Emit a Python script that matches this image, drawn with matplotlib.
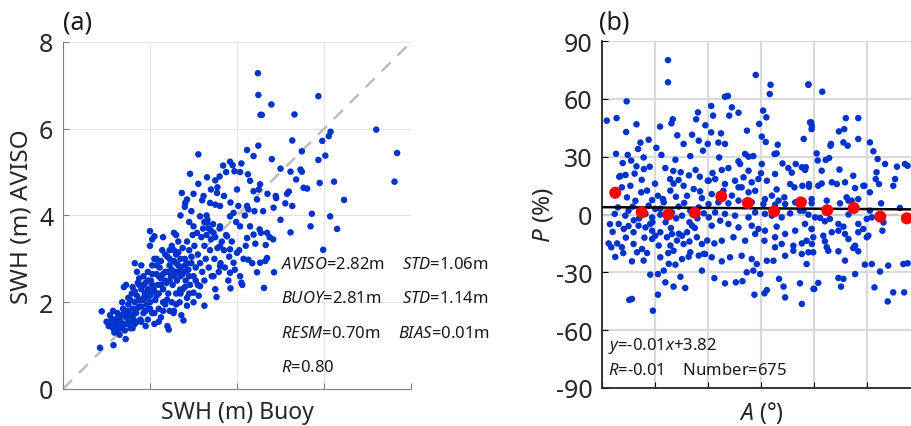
import matplotlib
matplotlib.use("Agg")
import matplotlib.pyplot as plt

plt.rcParams['font.family'] = ['Noto Sans', 'DejaVu Sans']
plt.rcParams['mathtext.fontset'] = 'custom'
plt.rcParams['mathtext.rm'] = 'Noto Sans'
plt.rcParams['mathtext.it'] = 'Noto Sans:italic'
plt.rcParams['axes.unicode_minus'] = False

# ---- panel (a): SWH buoy vs AVISO ----
swh_buoy = [
    4.48, 4.49, 4.79, 4.54, 4.57, 5.87, 5.32, 7.20, 7.68, 7.62, 6.15, 6.11, 5.96, 5.27, 4.49, 4.23, 3.11, 5.49,
    6.03, 5.87, 4.80, 4.38, 5.00, 5.23, 5.46, 5.49, 6.23, 5.90, 5.36, 5.53, 5.61, 5.19, 6.46, 4.89, 5.11, 5.27,
    4.84, 5.72, 6.14, 5.69, 6.30, 5.23, 5.98, 4.85, 4.62, 2.92, 3.84, 3.90, 3.68, 4.07, 3.94, 3.31, 3.50, 2.73,
    2.85, 2.81, 3.11, 2.00, 2.10, 0.89, 0.85, 1.16, 2.43, 2.77, 3.25, 3.53, 3.85, 4.12, 4.26, 4.46, 4.53, 4.69,
    4.38, 4.52, 4.69, 4.83, 4.66, 4.23, 4.00, 3.84, 4.07, 3.84, 3.92, 4.23, 4.46, 4.53, 4.38, 4.26, 4.03, 3.61,
    3.54, 3.23, 3.38, 3.15, 3.00, 3.31, 3.61, 3.46, 3.77, 3.61, 3.92, 4.07, 3.61, 3.84, 3.46, 3.15, 3.00, 2.85,
    2.54, 2.39, 2.69,
    1.05, 1.10, 1.08, 1.15, 1.20, 1.18, 1.12, 1.22, 1.00, 1.25, 1.15, 1.28, 1.30, 1.26, 1.32,
    1.35, 1.38, 1.40, 1.42, 1.45, 1.48, 1.36, 1.40, 1.45, 1.50, 1.52, 1.55, 1.50, 1.44, 1.55, 1.58, 1.60, 1.62,
    1.65, 1.60,
    1.68, 1.70, 1.72, 1.75, 1.78, 1.80, 1.82, 1.85, 1.85, 1.88, 1.90, 1.90, 1.92, 1.70, 1.75, 1.65, 1.80, 1.95,
    1.98, 1.95,
    2.00, 2.02, 2.05, 2.05, 2.08, 2.10, 2.12, 2.15, 2.15, 2.18, 2.20, 2.20, 2.22, 2.25, 2.25, 2.28, 2.30, 2.30,
    2.00, 2.05, 2.10, 2.30, 2.35, 2.35, 2.38, 2.40, 2.40,
    2.42, 2.45, 2.48, 2.50, 2.50, 2.52, 2.55, 2.55, 2.58, 2.60, 2.60, 2.62, 2.65, 2.65, 2.68, 2.70, 2.70, 2.72,
    2.75, 2.75, 2.60, 2.55, 2.45, 2.80,
    2.80, 2.82, 2.85, 2.85, 2.88, 2.90, 2.92, 2.95, 2.98, 3.00, 3.00, 3.02, 3.05, 3.08, 3.10, 3.10, 3.12, 3.15,
    3.18, 3.20, 3.22, 3.25, 3.25, 3.28,
    3.30, 3.32, 3.35, 3.38, 3.40, 3.42, 3.45, 3.48, 3.50, 3.50, 3.55, 3.58, 3.60, 3.62, 3.65, 3.30, 3.35, 3.40,
    3.25,
    3.70, 3.72, 3.75, 3.80, 3.82, 3.88, 3.95, 3.98, 4.05, 4.10, 4.15, 4.18, 4.20, 4.30, 4.35, 4.40, 4.42, 4.50,
    4.55, 4.60, 4.65, 4.70, 4.75, 4.90, 5.00, 5.15, 4.30, 4.00, 3.70, 3.50, 3.20, 2.95, 2.90, 2.80, 3.00, 3.40,
    3.60, 3.85, 4.10, 4.25, 3.75, 3.55, 2.70,
    1.20, 1.25, 1.30, 1.35, 1.40, 1.45, 1.50, 1.55, 1.60, 1.65, 1.70, 1.75, 1.80, 1.85, 1.90, 1.95, 2.00, 2.05,
    2.10, 2.15, 2.20, 2.25, 2.30, 2.35, 2.40, 2.45, 2.50, 2.55, 2.60, 2.65, 2.70, 2.75, 2.80, 2.85, 2.90, 2.95,
    1.55, 1.65, 1.75, 1.85, 1.95, 2.05, 2.15, 2.25, 2.35, 2.45, 2.55, 2.65, 1.60, 1.70, 1.80, 1.90, 2.00, 2.10,
    2.20, 2.30, 2.45, 2.60, 2.70, 2.80, 2.90, 3.05,
]
swh_aviso = [
    7.28, 6.78, 6.56, 6.32, 6.32, 6.75, 6.33, 5.98, 5.44, 4.78, 5.93, 5.83, 5.72, 5.73, 5.61, 5.51, 5.41, 5.48,
    5.38, 5.28, 5.30, 5.37, 5.08, 5.01, 5.06, 5.01, 4.78, 4.75, 4.83, 4.64, 4.62, 4.55, 4.36, 4.45, 4.28, 4.22,
    4.18, 4.04, 3.98, 3.75, 3.69, 3.61, 3.21, 2.69, 2.33, 4.96, 5.24, 5.16, 5.15, 5.00, 5.02, 4.88, 4.81, 4.52,
    4.37, 4.29, 4.73, 3.64, 3.52, 1.79, 0.95, 1.01, 1.37, 1.58, 1.92, 2.12, 2.32, 2.40, 2.98, 2.69, 2.91, 3.02,
    3.56, 3.68, 3.60, 3.45, 3.32, 3.48, 3.14, 3.22, 3.75, 3.98, 4.06, 4.22, 4.37, 4.72, 4.56, 4.14, 4.22, 4.22,
    4.52, 4.45, 4.29, 3.98, 3.75, 3.83, 3.75, 3.60, 3.52, 3.29, 2.91, 2.60, 2.83, 2.68, 2.60, 2.37, 2.22, 1.92,
    1.75, 2.06, 2.29,
    1.45, 1.55, 1.70, 1.40, 1.60, 1.30, 1.62, 1.50, 1.55, 1.75, 1.80, 1.45, 1.25, 1.62, 1.55,
    1.70, 1.85, 1.50, 1.35, 1.65, 1.80, 2.00, 2.35, 2.40, 1.95, 1.55, 1.70, 2.10, 1.15, 1.40, 2.20, 1.85, 1.60,
    2.00, 2.35,
    1.75, 2.15, 2.45, 1.90, 1.60, 2.30, 2.05, 2.60, 1.75, 2.20, 1.45, 2.45, 1.95, 2.70, 2.55, 2.90, 2.85, 2.70,
    2.20, 1.60,
    2.00, 2.50, 1.75, 2.85, 2.30, 1.50, 2.05, 2.65, 3.00, 2.40, 1.85, 2.20, 2.80, 2.55, 1.65, 3.20, 2.30, 2.00,
    3.30, 3.45, 3.00, 3.50, 2.70, 1.95, 2.45, 3.05, 1.45,
    2.20, 2.85, 2.60, 2.00, 3.30, 2.40, 2.95, 1.80, 2.70, 3.10, 2.20, 2.50, 3.40, 2.85, 2.00, 3.00, 2.60, 1.70,
    3.25, 2.30, 3.55, 3.60, 3.20, 2.85,
    3.00, 2.50, 3.40, 2.10, 2.75, 3.20, 2.40, 2.90, 3.55, 2.60, 2.00, 3.30, 2.80, 3.60, 2.40, 3.10, 2.15, 2.90,
    3.50, 2.70, 3.70, 3.30, 2.50, 3.00,
    3.55, 3.90, 2.80, 3.20, 3.45, 2.60, 3.80, 3.00, 2.30, 3.50, 3.25, 2.70, 3.70, 2.90, 3.40, 4.00, 3.70, 3.65,
    3.85,
    3.20, 2.80, 3.55, 2.50, 3.05, 3.40, 2.75, 3.85, 3.20, 2.45, 3.00, 4.00, 3.30, 3.75, 2.90, 4.10, 3.35, 4.60,
    3.60, 4.10, 2.95, 4.50, 3.50, 4.40, 3.90, 4.50, 4.80, 4.60, 4.45, 4.25, 4.35, 4.10, 3.85, 4.20, 4.50, 4.60,
    4.90, 4.30, 5.20, 4.95, 5.00, 4.65, 4.00,
    1.45, 1.35, 1.60, 1.40, 1.75, 1.50, 1.75, 1.55, 1.70, 1.50, 1.85, 2.05, 1.90, 2.10, 2.10, 2.30, 2.15, 2.40,
    2.25, 2.15, 2.60, 2.40, 2.65, 2.50, 2.70, 2.50, 2.75, 2.60, 2.90, 2.70, 2.80, 2.65, 2.70, 2.90, 2.60, 3.05,
    2.05, 2.25, 2.40, 2.40, 2.50, 2.65, 2.85, 2.95, 3.10, 3.00, 3.20, 3.15, 1.40, 1.55, 1.55, 1.80, 1.85, 1.75,
    1.55, 1.80, 1.80, 1.95, 2.20, 2.35, 2.20, 2.50,
]

stats_left = [r"$\mathit{AVISO}$=2.82m", r"$\mathit{BUOY}$=2.81m", r"$\mathit{RESM}$=0.70m", r"$\mathit{R}$=0.80"]
stats_right = [r"$\mathit{STD}$=1.06m", r"$\mathit{STD}$=1.14m", r"$\mathit{BIAS}$=0.01m", ""]

# ---- panel (b): P vs A ----
angle_a = [
    24.9, 24.9, 9.3, 1.8, 5.5, 13.0, 9.1, 21.9, 26.7, 26.2, 36.2, 35.5, 28.4, 34.0, 39.0, 14.5, 17.6, 13.6,
    20.5, 22.4, 5.3, 9.7, 15.7, 30.8, 27.7, 33.3, 38.1, 36.5, 7.8, 6.5, 8.9, 12.3, 15.8, 18.0, 23.9, 26.9,
    29.7, 35.3, 36.9, 32.8, 28.9, 25.7,
    4.5, 7.5, 9.4, 10.7, 12.6, 14.8, 17.0, 18.9, 21.1, 23.3, 25.8, 27.9, 30.8, 32.1, 34.6, 37.7, 40.3, 6.0,
    11.6, 17.6, 20.1, 28.9, 36.5, 4.8, 8.8, 16.4, 18.9, 22.0, 26.4, 30.2, 33.3, 38.4, 40.3,
    6.3, 8.2, 11.9, 13.8, 16.4, 18.2, 18.9, 20.1, 22.0, 24.5, 26.4, 28.3, 30.2, 32.1, 34.0, 35.8, 37.7, 39.7,
    5.7, 7.5, 11.9, 15.1, 13.2, 18.9, 21.4, 25.8, 27.0, 30.8, 33.3, 36.5, 38.4, 11.3, 15.7, 22.0, 25.2, 27.7,
    30.2, 32.7, 37.7, 18.2, 21.1, 23.3, 23.9, 27.0, 29.6, 31.4, 10.3, 11.3, 21.1, 19.2,
    2.5, 3.5, 5.0, 8.0, 10.0, 12.0, 14.0, 16.0, 9.0, 3.0, 4.0, 14.0, 10.0, 22.0, 24.0, 26.0, 28.0, 31.0,
    33.0, 35.0, 37.0, 20.0, 15.0, 17.0, 19.0, 23.0, 27.0, 13.0, 11.0, 7.0, 25.0, 29.0, 33.0, 36.0,
    58.0, 63.6, 63.3, 77.9, 46.4, 47.5, 41.2, 41.9, 49.0, 48.0, 51.5, 60.8, 62.0, 59.3, 54.7, 41.2, 44.9, 39.9,
    43.9, 46.4, 60.3, 61.8, 66.3, 65.9, 65.1, 76.1, 78.9, 79.2, 44.2, 54.0, 55.3, 57.1,
    41.7, 45.2, 47.7, 51.5, 52.1, 55.3, 60.3, 60.0, 65.3, 68.1, 70.3, 73.1, 75.4, 76.6, 71.6,
    39.9, 42.7, 46.4, 50.2, 53.4, 56.5, 59.0, 62.2, 52.7, 65.9, 68.8, 71.0, 72.6, 75.6, 78.1, 41.4, 45.8, 49.0,
    51.5, 55.3, 57.8, 61.5, 64.1, 66.6,
    40.2, 43.9, 47.7, 51.5, 56.5, 60.9, 65.3, 69.1, 72.9, 76.0, 79.1, 42.7, 46.4, 50.2, 55.3, 57.8, 61.5, 64.1,
    67.8, 71.0, 74.7, 77.9,
    41.4, 44.6, 47.7, 51.5, 56.5, 59.0, 61.5, 65.9, 69.1, 72.9, 76.6, 79.1, 42.4, 45.2, 49.6, 54.0, 57.8, 61.3,
    65.3, 67.8, 72.2, 75.4, 38.9, 41.4, 45.2, 48.3, 52.7, 56.5, 58.4, 62.2, 65.3, 69.1, 72.2, 75.4, 77.9, 79.2,
    42.4, 46.4, 50.5, 53.0, 57.5, 61.3, 62.2, 66.8, 68.5, 69.1, 74.7, 75.4, 79.8, 54.6, 57.1, 59.7, 64.7,
    77.9, 83.1, 78.5, 79.1, 92.0, 96.7, 91.4, 89.4, 96.7, 86.4, 86.2, 91.1, 92.7, 101.1, 102.4, 104.0, 106.8,
    111.3, 114.3, 115.3, 110.6, 109.9, 103.6, 103.3, 104.5, 101.1, 99.0, 96.7, 93.0,
    81.0, 81.4, 84.4, 85.7, 82.9, 89.6, 76.9, 78.1, 81.6, 82.9, 86.7, 88.6, 91.7, 94.8, 95.5, 98.6, 79.1, 84.8,
    94.2, 92.3, 89.8, 105.3, 112.4, 76.0, 80.4, 82.3, 84.1, 86.0, 89.2, 93.0, 96.7, 99.9, 101.8, 106.2, 101.1,
    79.1, 83.5, 86.7, 89.2, 91.1, 91.7, 93.0, 96.7, 98.6, 99.9, 105.8, 77.2, 79.7, 84.1, 84.8, 85.4, 89.2, 91.7,
    94.8, 95.5, 96.7, 100.5, 77.2, 99.2, 101.8, 108.0, 113.7, 115.3, 104.9, 95.5, 89.2, 91.1, 90.2, 81.6, 80.1,
    102.8, 109.9, 114.0, 107.8, 79.7,
]
p_pct = [
    80.1, 68.6, 58.7, 48.7, 50.0, 46.8, 42.8, 45.6, 49.4, 47.3, 53.0, 49.4, 41.1, 41.4, 46.3, 37.3, 38.8, 34.0,
    34.6, 30.9, 31.5, 30.9, 29.6, 36.6, 28.4, 30.3, 33.1, 38.3, 26.7, 19.6, 20.5, 21.2, 23.6, 24.8, 24.1, 22.6,
    21.9, 23.1, 19.6, 20.3, 17.9, 18.4,
    10.1, 14.1, 8.9, 14.9, 7.1, 11.5, 12.4, 7.5, 9.7, 6.3, 12.4, 9.2, 14.9, 9.7, 13.2, 8.5, 17.6, 3.7,
    4.1, 4.6, 2.9, 4.1, 3.7, 0.3, -0.6, 0.3, -1.5, -0.1, 1.1, -0.6, 2.0, 0.6, -1.5,
    -4.9, -7.5, -9.2, -5.8, -6.7, -4.9, -8.4, -11.0, -9.2, -11.8, -10.1, -13.5, -11.0, -9.2, -5.8, -11.8, -15.3, -13.5,
    -15.0, -17.0, -15.3, -17.9, -19.6, -12.7, -16.1, -16.1, -18.8, -15.3, -19.6, -21.3, -20.4, -24.3, -23.9, -22.2, -25.6, -26.0,
    -23.1, -21.9, -29.1, -31.2, -30.9, -29.1, -35.2, -37.4, -32.3, -38.1, -44.3, -43.8, -41.6, -49.9,
    -15.0, -17.0, -22.0, -20.0, -6.0, -3.0, -2.0, -12.0, -12.0, -5.0, -9.0, 2.0, 2.0, 3.0, -4.0, -7.0, -2.0, 6.0,
    -4.0, -7.0, 12.0, 16.0, 18.0, -20.0, -4.0, 8.0, 16.0, 25.0, 28.0, 20.0, -20.0, -10.0, -14.0, -2.0,
    72.4, 67.3, 62.5, 67.5, 61.1, 61.5, 56.3, 51.3, 55.6, 51.3, 52.8, 53.9, 50.4, 47.0, 43.5, 42.6, 42.1, 36.6,
    37.3, 36.6, 40.4, 37.6, 36.2, 31.7, 31.4, 39.2, 47.8, 45.9, 29.6, 31.4, 30.0, 30.3,
    21.5, 23.1, 24.1, 27.6, 26.2, 22.7, 26.2, 21.4, 21.0, 26.5, 24.1, 26.2, 24.5, 23.1, 21.7,
    17.5, 18.4, 15.8, 17.5, 19.3, 16.7, 18.4, 17.5, 14.1, 13.0, 8.9, 15.8, 14.1, 14.9, 15.8, 10.6, 12.3, 9.8,
    14.1, 11.5, 12.3, 8.0, 9.8, 7.2,
    5.4, 6.3, 5.8, 7.2, 6.3, 5.4, 5.1, 5.4, 6.3, 6.8, 5.8, 1.1, 0.3, -0.6, -1.5, 1.1, 0.3, -0.6,
    -1.5, 0.6, 2.0, -0.1,
    -5.8, -3.2, -4.9, -6.7, -5.8, -7.5, -8.4, -6.3, -10.1, -8.4, -4.9, -7.5, -15.0, -13.6, -11.8, -13.6, -10.1, -13.6,
    -11.8, -15.3, -16.2, -15.0, -20.5, -22.2, -24.3, -22.2, -21.4, -23.1, -25.7, -24.0, -17.0, -21.4, -18.8, -20.5, -19.6, -15.3,
    -33.0, -35.7, -35.2, -34.6, -41.6, -40.9, -39.2, -33.4, -37.4, -43.0, -35.7, -46.4, -38.6, -30.0, -29.1, -30.9, -24.0,
    67.3, 63.7, 47.8, 44.3, 50.0, 50.0, 44.3, 43.1, 39.2, 36.6, 35.7, 37.4, 35.7, 37.4, 32.8, 28.8, 26.2,
    24.8, 26.2, 25.3, 18.4, 14.9, 21.9, 18.4, 15.8, 11.5, 14.9, 8.0, 7.2,
    31.7, 28.0, 28.3, 29.3, 22.7, 23.3, 24.5, 14.4, 14.9, 16.1, 16.7, 15.8, 16.7, 20.1, 13.7, 14.9, 8.0, 7.2,
    7.2, 8.9, 5.8, 5.8, 3.4, 2.0, -1.5, -1.8, -3.5, -2.3, -4.9, 0.0, -4.9, -2.3, -1.5, -4.1, 2.0,
    -7.5, -11.0, -9.2, -8.4, -6.3, -10.1, -12.7, -9.2, -7.5, -11.8, -8.4, -13.6, -11.8, -13.9, -17.0, -18.8, -19.1, -23.9,
    -17.4, -16.2, -19.1, -11.0, -25.7, -26.0, -25.7, -26.5, -25.7, -25.3, -29.6, -30.9, -32.9, -33.4, -37.4, -35.5, -38.6,
    -37.8, -40.4, -40.4, -45.1, -19.6,
]

bin_centers = [5, 15, 25, 35, 45, 55, 65, 75, 85, 95, 105, 115]
bin_means = [11.3, 1.1, 0.0, 0.9, 9.4, 6.0, 1.7, 6.3, 2.2, 3.4, -1.1, -2.0]
fit_slope, fit_intercept = -0.01, 3.82

blue = '#0033cc'
txt = '#262626'

fig = plt.figure(figsize=(9.12, 4.27), dpi=100)

# ---------------- (a) ----------------
ax1 = fig.add_axes([0.0691, 0.0867, 0.3816, 0.8126])
ax1.set_xlim(0, 8)
ax1.set_ylim(0, 8)
ax1.set_xticks([0, 2, 4, 6, 8])
ax1.set_xticklabels([])
ax1.set_yticks([0, 2, 4, 6, 8])
ax1.grid(True, color='#e3e3e3', lw=0.8)
ax1.set_axisbelow(True)
ax1.plot([0, 8], [0, 8], ls=(0, (5, 4)), color='#bdbdbd', lw=1.8, zorder=1)
ax1.scatter(swh_buoy, swh_aviso, s=22, color=blue, edgecolors='none', zorder=2)
for s in ['top', 'right']:
    ax1.spines[s].set_visible(False)
for s in ['left', 'bottom']:
    ax1.spines[s].set_color('#7f7f7f')
ax1.tick_params(direction='in', length=4, color='#7f7f7f', labelsize=18, labelcolor=txt, pad=7)
ax1.set_xlabel('SWH (m) Buoy', fontsize=16.5, color=txt, labelpad=1)
ax1.set_ylabel('SWH (m) AVISO', fontsize=17.5, color=txt, labelpad=4)
for i, (lt, rt) in enumerate(zip(stats_left, stats_right)):
    yy = 2.88 - i * 0.79
    ax1.text(5.0, yy, lt, fontsize=12, va='center', ha='left', color='#1a1a1a')
    if rt:
        ax1.text(7.8 if i < 2 else 7.7, yy, rt, fontsize=12, va='center', ha='left', color='#1a1a1a',
                 clip_on=False)
fig.text(0.069, 0.945, '(a)', fontsize=18, color='#1a1a1a', va='center')

# ---------------- (b) ----------------
ax2 = fig.add_axes([0.6601, 0.089, 0.3487, 0.8126])
ax2.set_xlim(0, 120)
ax2.set_ylim(-90, 90)
ax2.set_xticks(range(0, 121, 20))
ax2.set_xticklabels([])
ax2.set_yticks(range(-90, 91, 30))
ax2.grid(True, color='#d9d9d9', lw=1.5)
ax2.set_axisbelow(True)
ax2.axhline(0, ls=(0, (5, 3)), color='#c8c8c8', lw=1.6, zorder=1)
ax2.scatter(angle_a, p_pct, s=22, color=blue, edgecolors='none', zorder=2)
ax2.plot([0, 120], [fit_intercept, fit_intercept + fit_slope * 120], color='black', lw=1.8, zorder=3)
ax2.scatter(bin_centers, bin_means, s=75, color='#ff0000', edgecolors='none', zorder=4)
ax2.spines['top'].set_visible(False)
ax2.spines['right'].set_visible(False)
for s in ['left', 'bottom']:
    ax2.spines[s].set_color(txt)
    ax2.spines[s].set_linewidth(1.3)
ax2.tick_params(direction='in', length=4, labelsize=18, labelcolor=txt, pad=7)
ax2.set_xlabel(r'$\mathit{A}$ (°)', fontsize=16.5, color=txt, labelpad=1)
ax2.set_ylabel(r'$\mathit{P}$ (%)', fontsize=17.5, color=txt, labelpad=0)
ax2.text(2.2, -67.7, r'$\mathit{y}$=-0.01$\mathit{x}$+3.82', fontsize=12, va='center', color='#1a1a1a')
ax2.text(2.2, -80.6, r'$\mathit{R}$=-0.01    Number=675', fontsize=12, va='center', color='#1a1a1a')
fig.text(0.657, 0.945, '(b)', fontsize=18, color='#1a1a1a', va='center')

fig.savefig('out.png', dpi=100)
